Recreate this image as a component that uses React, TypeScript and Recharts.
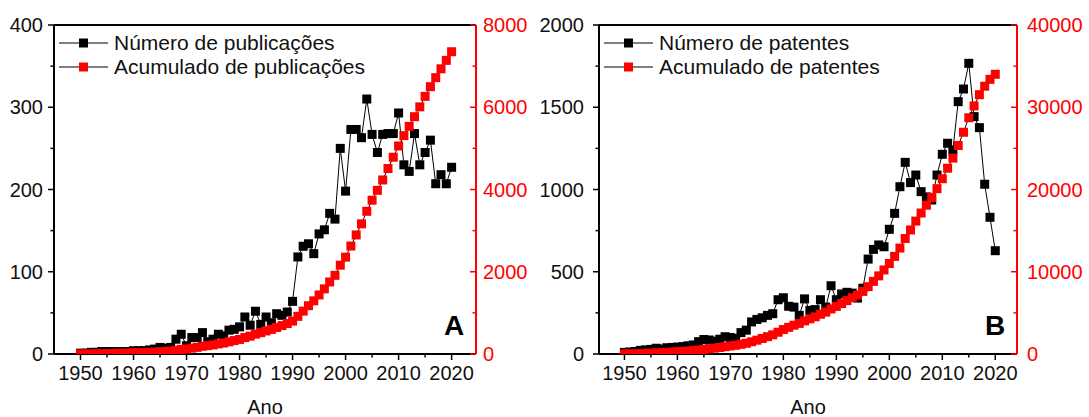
import { ComposedChart, Line, XAxis, YAxis, ReferenceLine } from "recharts";

const FONT = '"Liberation Sans", Arial, sans-serif';
const INK = "#111";
const RED = "#ff0000";

const anos = [
  1950, 1951, 1952, 1953, 1954, 1955, 1956, 1957, 1958, 1959,
  1960, 1961, 1962, 1963, 1964, 1965, 1966, 1967, 1968, 1969,
  1970, 1971, 1972, 1973, 1974, 1975, 1976, 1977, 1978, 1979,
  1980, 1981, 1982, 1983, 1984, 1985, 1986, 1987, 1988, 1989,
  1990, 1991, 1992, 1993, 1994, 1995, 1996, 1997, 1998, 1999,
  2000, 2001, 2002, 2003, 2004, 2005, 2006, 2007, 2008, 2009,
  2010, 2011, 2012, 2013, 2014, 2015, 2016, 2017, 2018, 2019,
  2020,
];

// A: publicações por ano e acumulado
const publicacoes = [
  1, 1, 2, 2, 3, 3, 3, 3, 3, 3,
  4, 4, 4, 5, 6, 8, 7, 8, 18, 24,
  10, 20, 20, 26, 15, 18, 24, 22, 29, 30,
  33, 45, 35, 52, 36, 45, 38, 49, 47, 51,
  64, 118, 131, 134, 122, 146, 151, 171, 164, 250,
  198, 273, 273, 263, 310, 267, 245, 267, 268, 268,
  293, 230, 222, 268, 230, 245, 260, 207, 218, 207,
  227,
];
const publicacoesAcum = [
  1, 2, 4, 6, 9, 12, 15, 18, 21, 24,
  28, 32, 36, 41, 47, 55, 62, 70, 88, 112,
  122, 142, 162, 188, 203, 221, 245, 267, 296, 326,
  355, 400, 433, 483, 518, 561, 598, 645, 690, 740,
  800, 915, 1043, 1174, 1293, 1436, 1584, 1752, 1913, 2160,
  2355, 2625, 2895, 3165, 3470, 3740, 3980, 4232, 4510, 4785,
  5058, 5310, 5535, 5770, 6010, 6265, 6500, 6720, 6935, 7140,
  7350,
];

// B: patentes por ano e acumulado
const patentes = [
  10, 12, 15, 22, 25, 28, 35, 30, 38, 40,
  42, 45, 50, 55, 75, 88, 85, 78, 90, 105,
  100, 95, 130, 145, 195, 210, 220, 235, 245, 330,
  342, 290, 285, 235, 335, 265, 270, 330, 285, 415,
  330, 365, 375, 370, 340, 400, 577, 636, 663, 652,
  758, 855, 1017, 1165, 1042, 1088, 987, 955, 936, 1088,
  1214, 1281, 1240, 1534, 1611, 1767, 1443, 1376, 1032, 831,
  628,
];
const patentesAcum = [
  10, 20, 34, 55, 78, 104, 137, 165, 200, 237,
  275, 317, 362, 412, 480, 560, 638, 710, 792, 887,
  975, 1060, 1175, 1305, 1485, 1680, 1885, 2105, 2335, 2645,
  2970, 3240, 3505, 3720, 4030, 4275, 4520, 4830, 5090, 5480,
  5785, 6130, 6490, 6845, 7170, 7610, 8190, 8830, 9500, 10220,
  11000, 11870, 12880, 14040, 15080, 16160, 17140, 18090, 19020, 20100,
  21310, 22590, 23820, 25350, 26960, 28720, 30160, 31530, 32560, 33390,
  34010,
];

const ticksAno = [1950, 1955, 1960, 1965, 1970, 1975, 1980, 1985, 1990, 1995, 2000, 2005, 2010, 2015, 2020];
const ticksPub = [0, 50, 100, 150, 200, 250, 300, 350, 400];
const ticksPubAcum = [0, 1000, 2000, 3000, 4000, 5000, 6000, 7000, 8000];
const ticksPat = [0, 250, 500, 750, 1000, 1250, 1500, 1750, 2000];
const ticksPatAcum = [0, 5000, 10000, 15000, 20000, 25000, 30000, 35000, 40000];

const squareDot = (fill: string) => (props: any) => {
  const { cx, cy, index } = props;
  if (cx == null || cy == null) return <g key={index} />;
  return <rect key={index} x={cx - 4.5} y={cy - 4.5} width={9} height={9} fill={fill} />;
};

const BottomTick = (props: any) => {
  const { x, y, payload } = props;
  const major = payload.value % 10 === 0;
  return (
    <g>
      <line x1={x} x2={x} y1={y} y2={y + (major ? 6 : 3.5)} stroke="#000" strokeWidth={1.5} />
      {major && (
        <text x={x} y={y + 26} textAnchor="middle" fontSize={20} fontFamily={FONT} fill={INK}>
          {payload.value}
        </text>
      )}
    </g>
  );
};

const leftTick = (step: number, gap: number) => (props: any) => {
  const { x, y, payload } = props;
  const major = payload.value % step === 0;
  return (
    <g>
      <line x1={x - (major ? 6 : 3.5)} x2={x} y1={y} y2={y} stroke="#000" strokeWidth={1.5} />
      {major && (
        <text x={x - 6 - gap} y={y} dy="0.36em" textAnchor="end" fontSize={20} fontFamily={FONT} fill={INK}>
          {payload.value}
        </text>
      )}
    </g>
  );
};

const rightTick = (step: number, gap: number) => (props: any) => {
  const { x, y, payload } = props;
  const major = payload.value % step === 0;
  return (
    <g>
      <line x1={x - (major ? 6 : 3.5)} x2={x} y1={y} y2={y} stroke={RED} strokeWidth={1.5} />
      {major && (
        <text x={x + gap} y={y} dy="0.36em" textAnchor="start" fontSize={20} fontFamily={FONT} fill={RED}>
          {payload.value}
        </text>
      )}
    </g>
  );
};

type PanelProps = {
  left: number;
  width: number;
  leftWidth: number;
  rightWidth: number;
  xDomain: [number, number];
  valores: number[];
  acumulado: number[];
  leftMax: number;
  rightMax: number;
  leftTicks: number[];
  rightTicks: number[];
  leftStep: number;
  rightStep: number;
  leftGap: number;
  rightGap: number;
  legenda: [string, string];
  letra: string;
};

function Painel(p: PanelProps) {
  const data = anos.map((ano, i) => ({ ano, valor: p.valores[i], acum: p.acumulado[i] }));
  const plotRight = p.width - p.rightWidth;
  const legendX = p.leftWidth + 5;

  return (
    <div style={{ position: "absolute", left: p.left, top: 0, width: p.width, height: 417 }}>
      <ComposedChart
        width={p.width}
        height={417}
        data={data}
        margin={{ top: 25, right: 0, bottom: 0, left: 0 }}
        style={{ fontFamily: FONT }}
      >
        <XAxis
          dataKey="ano"
          type="number"
          domain={p.xDomain}
          ticks={ticksAno}
          allowDataOverflow
          height={63}
          tickSize={0}
          tickMargin={0}
          tickLine={false}
          axisLine={{ stroke: "#000", strokeWidth: 2 }}
          tick={BottomTick}
          interval={0}
          label={{ value: "Ano", position: "insideBottom", offset: 3, fill: INK, fontSize: 20, fontFamily: FONT }}
        />
        <YAxis
          yAxisId="left"
          domain={[0, p.leftMax]}
          ticks={p.leftTicks}
          allowDataOverflow
          width={p.leftWidth}
          tickSize={0}
          tickMargin={0}
          tickLine={false}
          interval={0}
          axisLine={{ stroke: "#000", strokeWidth: 2 }}
          tick={leftTick(p.leftStep, p.leftGap)}
        />
        <YAxis
          yAxisId="right"
          orientation="right"
          domain={[0, p.rightMax]}
          ticks={p.rightTicks}
          allowDataOverflow
          width={p.rightWidth}
          tickSize={0}
          tickMargin={0}
          tickLine={false}
          interval={0}
          axisLine={{ stroke: RED, strokeWidth: 2 }}
          tick={rightTick(p.rightStep, p.rightGap)}
        />
        <ReferenceLine yAxisId="left" y={p.leftMax} stroke="#000" strokeWidth={2} />
        <Line
          yAxisId="left"
          dataKey="valor"
          type="linear"
          stroke="#000"
          strokeWidth={1}
          dot={squareDot("#000")}
          activeDot={false}
          isAnimationActive={false}
        />
        <Line
          yAxisId="right"
          dataKey="acum"
          type="linear"
          stroke="#000"
          strokeWidth={1}
          dot={squareDot(RED)}
          activeDot={false}
          isAnimationActive={false}
        />
      </ComposedChart>
      <svg
        width={p.width}
        height={417}
        style={{ position: "absolute", left: 0, top: 0, pointerEvents: "none" }}
      >
        {p.legenda.map((txt, i) => {
          const cy = 43 + i * 24;
          return (
            <g key={txt}>
              <line x1={legendX} x2={legendX + 49} y1={cy} y2={cy} stroke="#000" strokeWidth={1} />
              <rect x={legendX + 24.5 - 4.5} y={cy - 4.5} width={9} height={9} fill={i === 0 ? "#000" : RED} />
              <text x={legendX + 55} y={cy + 7} fontSize={21} fontFamily={FONT} fill={INK}>
                {txt}
              </text>
            </g>
          );
        })}
        <text
          x={plotRight - 22}
          y={335}
          textAnchor="middle"
          fontSize={28}
          fontWeight="bold"
          fontFamily={FONT}
          fill="#000"
        >
          {p.letra}
        </text>
      </svg>
    </div>
  );
}

export default function App() {
  return (
    <div style={{ position: "absolute", left: 0, top: 0, width: 1089, height: 417, background: "#fff" }}>
      <Painel
        left={0}
        width={545}
        leftWidth={54}
        rightWidth={69}
        xDomain={[1945, 2024.6]}
        valores={publicacoes}
        acumulado={publicacoesAcum}
        leftMax={400}
        rightMax={8000}
        leftTicks={ticksPub}
        rightTicks={ticksPubAcum}
        leftStep={100}
        rightStep={2000}
        leftGap={5}
        rightGap={7}
        legenda={["Número de publicações", "Acumulado de publicações"]}
        letra="A"
      />
      <Painel
        left={525}
        width={564}
        leftWidth={74}
        rightWidth={72}
        xDomain={[1945.2, 2024.1]}
        valores={patentes}
        acumulado={patentesAcum}
        leftMax={2000}
        rightMax={40000}
        leftTicks={ticksPat}
        rightTicks={ticksPatAcum}
        leftStep={500}
        rightStep={10000}
        leftGap={9}
        rightGap={10}
        legenda={["Número de patentes", "Acumulado de patentes"]}
        letra="B"
      />
    </div>
  );
}
